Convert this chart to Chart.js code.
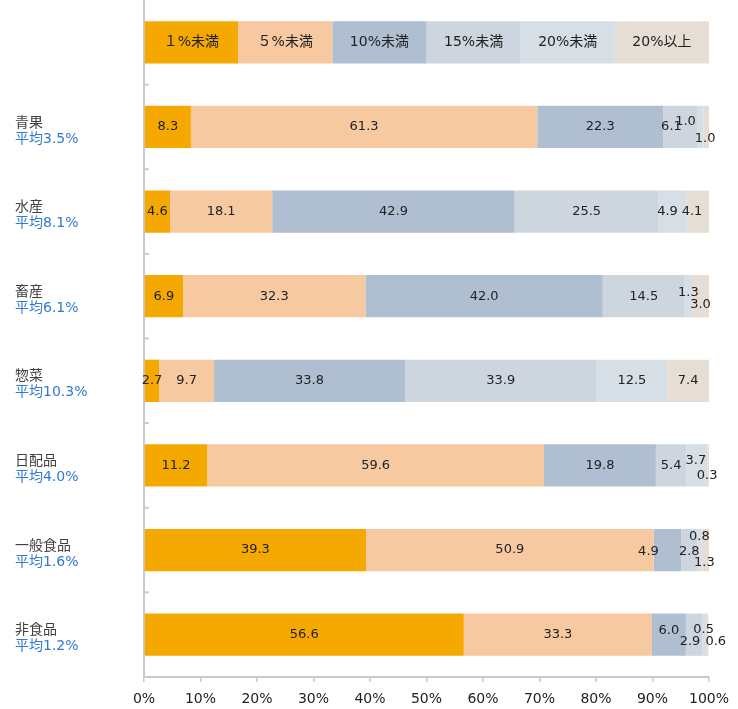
<!DOCTYPE html>
<html lang="ja">
<head>
<meta charset="utf-8">
<script src="https://cdn.jsdelivr.net/npm/chart.js@4/dist/chart.umd.min.js"></script>
<style>
  html, body { margin: 0; padding: 0; background: #fff; }
  #wrap { position: relative; width: 738px; height: 709px; }
</style>
</head>
<body>
<div id="wrap"><canvas id="chart"></canvas></div>
<script>
// ── データ ──────────────────────────────
const CATEGORIES = ['青果', '水産', '畜産', '惣菜', '日配品', '一般食品', '非食品'];
const AVERAGES   = ['平均3.5%', '平均8.1%', '平均6.1%', '平均10.3%', '平均4.0%', '平均1.6%', '平均1.2%'];
const SERIES     = ['１%未満', '５%未満', '10%未満', '15%未満', '20%未満', '20%以上'];

const LT1  = [8.3, 4.6, 6.9, 2.7, 11.2, 39.3, 56.6];
const LT5  = [61.3, 18.1, 32.3, 9.7, 59.6, 50.9, 33.3];
const LT10 = [22.3, 42.9, 42.0, 33.8, 19.8, 4.9, 6.0];
const LT15 = [6.1, 25.5, 14.5, 33.9, 5.4, 2.8, 2.9];
const LT20 = [1.0, 4.9, 1.3, 12.5, 3.7, 0.8, 0.5];
const GE20 = [1.0, 4.1, 3.0, 7.4, 0.3, 1.3, 0.6];

const X_TICKS = [0, 10, 20, 30, 40, 50, 60, 70, 80, 90, 100];

// ── 見た目 ──────────────────────────────
const COLORS = ['#F5A800', '#F6C9A1', '#AFBFD1', '#CDD5DE', '#D6DEE6', '#E6DDD4'];
const AXIS_COLOR = '#C5CAD0';
const NUM_FONT = "13px 'DejaVu Sans', 'Noto Sans CJK JP', sans-serif";
const TXT_FONT = "14px 'DejaVu Sans', 'Noto Sans CJK JP', sans-serif";

// 小さい区間のラベル位置調整 [dx, dy]（系列, 分類）
const NUDGE = {
  '3,0': [-9, 0],  '4,0': [-15, -5], '5,0': [-1, 12],
  '4,1': [-5, 0],  '5,1': [-6, 0],
  '4,2': [0, -4],  '5,2': [0, 8],
  '4,4': [-1, -5], '5,4': [-1, 10],
  '2,5': [-19, 2], '3,5': [0, 2],    '4,5': [0, -13], '5,5': [-1, 13],
  '2,6': [0, -4],  '3,6': [-4, 7],   '4,6': [0, -5],  '5,6': [9, 7],
};

const SERIES_DATA = [LT1, LT5, LT10, LT15, LT20, GE20];
const LEGEND_SHARE = 100 / SERIES.length;   // 凡例行は等幅

const datasets = SERIES.map((name, i) => ({
  label: name,
  data: [LEGEND_SHARE, ...SERIES_DATA[i]],
  backgroundColor: COLORS[i],
  borderWidth: 0,
  categoryPercentage: 1,
  barPercentage: 0.5,
}));

// ── ラベル描画 ──────────────────────────
const labelPlugin = {
  id: 'labels',
  afterDatasetsDraw(chart) {
    const ctx = chart.ctx;
    ctx.save();
    ctx.textAlign = 'center';
    ctx.textBaseline = 'middle';
    ctx.fillStyle = '#222';

    chart.data.datasets.forEach((ds, si) => {
      const meta = chart.getDatasetMeta(si);
      meta.data.forEach((bar, idx) => {
        const cx = (bar.x + bar.base) / 2;
        if (idx === 0) {
          ctx.font = TXT_FONT;
          ctx.fillText(SERIES[si], cx, bar.y);
          return;
        }
        const [dx, dy] = NUDGE[si + ',' + (idx - 1)] || [0, 0];
        ctx.font = NUM_FONT;
        ctx.fillText(ds.data[idx].toFixed(1), cx + dx, bar.y + dy);
      });
    });
    ctx.restore();
  },
  afterDraw(chart) {
    const ctx = chart.ctx;
    const y = chart.scales.y;
    const left = chart.chartArea.left;
    ctx.save();

    // 区切りの目盛り（内側）
    ctx.strokeStyle = AXIS_COLOR;
    ctx.lineWidth = 2;
    for (let i = 1; i < chart.data.labels.length; i++) {
      const py = (y.getPixelForValue(i - 1) + y.getPixelForValue(i)) / 2;
      ctx.beginPath();
      ctx.moveTo(left - 1, py);
      ctx.lineTo(left + 5, py);
      ctx.stroke();
    }

    // 分類名と平均
    ctx.textAlign = 'left';
    ctx.textBaseline = 'middle';
    ctx.font = TXT_FONT;
    CATEGORIES.forEach((name, i) => {
      const py = y.getPixelForValue(i + 1);
      ctx.fillStyle = '#404040';
      ctx.fillText(name, 15, py - 4);
      ctx.fillStyle = '#2F7AD6';
      ctx.fillText(AVERAGES[i], 15, py + 12);
    });
    ctx.restore();
  }
};

new Chart(document.getElementById('chart'), {
  type: 'bar',
  data: { labels: ['', ...CATEGORIES], datasets },
  options: {
    indexAxis: 'y',
    responsive: true,
    maintainAspectRatio: false,
    animation: false,
    layout: { padding: { top: 0, right: 28, bottom: 0, left: 0 } },
    plugins: { legend: { display: false }, tooltip: { enabled: false } },
    scales: {
      x: {
        stacked: true,
        min: 0,
        max: 100,
        afterBuildTicks: (scale) => { scale.ticks = X_TICKS.map(v => ({ value: v })); },
        afterFit: (scale) => { scale.height = 32; },
        ticks: {
          callback: (v) => v + '%',
          color: '#222',
          font: { family: "'DejaVu Sans', sans-serif", size: 14 },
          padding: 9,
          maxRotation: 0,
        },
        grid: { drawOnChartArea: false, tickLength: 5, color: AXIS_COLOR, lineWidth: 1.5 },
        border: { color: AXIS_COLOR, width: 2 },
      },
      y: {
        stacked: true,
        afterFit: (scale) => { scale.width = 144; },
        ticks: { display: false },
        grid: { display: false },
        border: { color: AXIS_COLOR, width: 2 },
      }
    }
  },
  plugins: [labelPlugin]
});
</script>
</body>
</html>
